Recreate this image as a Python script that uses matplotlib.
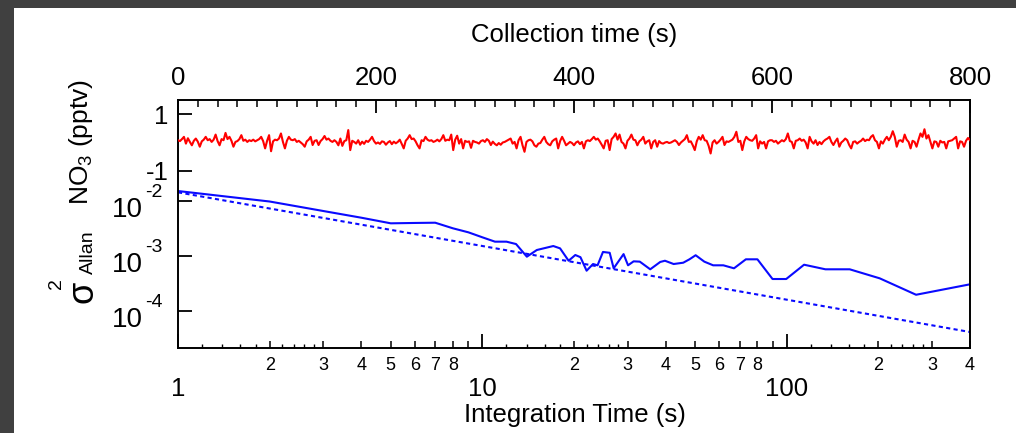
import numpy as np
import matplotlib.pyplot as plt
from matplotlib.ticker import NullLocator
from matplotlib.patches import Rectangle

plt.rcParams['font.family'] = ['Liberation Sans', 'DejaVu Sans']
plt.rcParams['mathtext.fontset'] = 'custom'
plt.rcParams['mathtext.rm'] = 'Liberation Sans'
plt.rcParams['mathtext.it'] = 'Liberation Sans:italic'
plt.rcParams['mathtext.default'] = 'regular'

# NO3 signal (pptv), one reading every 2 s of collection
collection_time = np.arange(0, 801, 2)
no3 = [
    0.08, 0.05, 0.12, 0.20, -0.04, 0.15, 0.02, -0.10, 0.06, 0.14, 0.03, -0.15, 0.04, 0.10, 0.20, 0.08, 0.12, 0.02, 0.10, 0.28,
    0.05, -0.10, 0.12, 0.08, 0.34, 0.12, 0.20, 0.06, -0.15, 0.02, 0.05, 0.12, 0.26, 0.06, 0.10, 0.02, 0.08, 0.05, 0.10, 0.04,
    0.08, 0.12, 0.20, 0.05, -0.21, 0.06, 0.26, -0.31, 0.04, 0.10, 0.08, 0.14, 0.32, 0.02, -0.21, 0.06, 0.20, 0.10, 0.08, 0.12,
    0.02, 0.06, 0.00, -0.06, -0.15, 0.04, 0.10, 0.20, -0.09, 0.06, 0.08, -0.09, 0.05, 0.12, 0.23, 0.10, 0.14, 0.06, 0.02, 0.08,
    0.02, -0.10, 0.14, -0.12, 0.05, 0.08, 0.44, -0.27, 0.06, 0.02, -0.04, 0.08, -0.08, 0.03, -0.05, 0.06, 0.02, 0.10, 0.20, 0.05,
    -0.04, 0.00, -0.05, 0.04, 0.02, -0.08, 0.00, 0.05, -0.06, 0.03, -0.03, 0.02, 0.10, -0.05, -0.21, 0.06, 0.14, 0.26, 0.12, 0.14,
    0.04, -0.10, -0.21, 0.08, 0.05, 0.20, 0.10, 0.06, 0.08, 0.02, 0.05, 0.10, 0.04, 0.12, 0.26, 0.06, 0.10, 0.08, 0.28, -0.27,
    0.10, 0.24, -0.04, 0.12, -0.21, 0.06, 0.02, 0.04, -0.19, 0.06, 0.02, 0.00, -0.04, 0.05, 0.08, 0.02, 0.12, 0.06, -0.09, 0.03,
    -0.05, -0.10, -0.02, -0.08, 0.00, 0.02, 0.06, 0.10, 0.14, -0.04, 0.02, -0.21, 0.08, 0.20, -0.10, -0.33, 0.02, 0.08, 0.10, 0.04,
    -0.10, -0.15, -0.04, -0.02, 0.10, 0.20, 0.02, -0.06, -0.10, 0.04, 0.10, 0.14, -0.21, 0.05, 0.20, 0.06, -0.10, -0.04, 0.02, -0.02,
    -0.10, 0.00, 0.04, -0.06, 0.02, -0.21, 0.04, 0.08, 0.05, 0.12, 0.20, 0.10, 0.14, 0.04, -0.08, -0.21, 0.06, 0.08, -0.27, 0.12,
    0.20, 0.32, 0.10, 0.28, 0.02, -0.04, -0.21, 0.06, 0.14, 0.28, 0.10, 0.08, -0.10, 0.04, 0.10, 0.20, -0.04, 0.04, 0.08, -0.21,
    0.02, 0.08, -0.15, 0.05, -0.02, -0.04, 0.00, 0.02, -0.02, 0.00, 0.04, 0.08, 0.02, -0.09, 0.00, 0.06, 0.12, 0.26, 0.02, 0.04,
    -0.10, -0.27, 0.04, 0.20, 0.10, 0.26, 0.08, 0.06, -0.12, -0.39, 0.00, 0.08, -0.04, 0.02, 0.10, 0.20, -0.09, 0.04, 0.02, 0.06,
    0.10, 0.20, 0.38, 0.02, 0.06, -0.27, 0.04, 0.20, 0.12, 0.08, 0.06, 0.14, 0.26, -0.21, 0.04, -0.04, 0.02, -0.21, 0.04, 0.08,
    0.08, 0.02, 0.06, -0.04, 0.02, 0.08, 0.04, 0.12, 0.32, 0.05, 0.02, -0.21, 0.06, 0.08, 0.14, 0.06, 0.10, 0.00, -0.21, 0.20,
    0.04, -0.04, 0.08, -0.09, 0.02, -0.06, 0.04, 0.10, 0.14, 0.20, 0.02, -0.09, 0.04, 0.14, -0.15, 0.00, 0.06, 0.14, 0.08, -0.09,
    -0.21, 0.02, 0.04, -0.04, 0.02, 0.06, 0.14, 0.05, 0.10, 0.08, 0.20, 0.26, 0.08, 0.02, -0.21, 0.04, -0.04, 0.10, 0.20, 0.08,
    0.20, 0.40, 0.20, -0.15, 0.06, 0.08, 0.02, 0.28, 0.10, 0.02, -0.21, 0.06, 0.02, -0.15, 0.10, 0.32, 0.20, 0.47, 0.14, 0.26,
    0.02, -0.21, 0.04, 0.02, -0.15, 0.06, 0.00, 0.02, -0.21, 0.04, 0.06, 0.08, 0.14, 0.20, -0.21, 0.04, 0.02, -0.15, 0.06, 0.16, 0.08,
]

# Allan variance vs integration time
tau = [1.0, 2.0, 3.0, 4.0, 5.0, 6.0, 7.0, 8.0, 9.0, 10.0, 11.0, 12.0, 12.9, 14.0, 15.1,
       17.1, 18.0, 19.2, 20.2, 21.0, 22.0, 23.1, 23.9, 24.9, 26.2, 27.0, 29.1, 30.1,
       31.4, 32.9, 35.6, 38.4, 39.8, 42.5, 45.7, 47.9, 50.2, 53.6, 57.3, 61.9, 67.1,
       73.4, 80.1, 89.8, 99.6, 114, 134, 161, 202, 266, 400]
allan_var = [0.0150, 0.00967, 0.0065, 0.00491, 0.00388, 0.00394, 0.00398, 0.00315,
             0.00266, 0.00216, 0.00180, 0.00180, 0.00163, 0.00096, 0.00127, 0.00150,
             0.00136, 0.00081, 0.00103, 0.00094, 0.000534, 0.000706, 0.000669, 0.00117,
             0.00113, 0.00059, 0.00107, 0.000669, 0.00079, 0.00078, 0.000566, 0.00077,
             0.00081, 0.000706, 0.000746, 0.00086, 0.00102, 0.00078, 0.000669, 0.000669,
             0.00059, 0.00086, 0.00086, 0.000377, 0.000377, 0.000686, 0.000566, 0.000566,
             0.000388, 0.000195, 0.000302]

# white-noise reference line (slope ~ -1)
white_tau = [1, 400]
white_var = [0.0142, 4.1e-5]

# log y-axis labels, Igor style: big "10" with exponent
var_ticks = [1e-2, 1e-3, 1e-4]
var_exps = ['-2', '-3', '-4']

W, H = 1016, 433


def fx(px):
    return px / W


def fy(py):
    return 1 - py / H


fig = plt.figure(figsize=(W / 100, H / 100), dpi=100)
fig.add_artist(Rectangle((0, fy(8)), 1, 8 / H, transform=fig.transFigure, color='#404040', lw=0))
fig.add_artist(Rectangle((0, 0), fx(14), 1, transform=fig.transFigure, color='#404040', lw=0))

pos = [fx(178), fy(348), 792 / W, 248 / H]

# lower panel: Allan variance, log-log
ax = fig.add_axes(pos)
ax.plot(tau, allan_var, color='#0a0aff', lw=1.5)
ax.plot(white_tau, white_var, color='#0a0aff', lw=1.5, ls=(0, (2, 1.6)))
ax.set_xscale('log')
ax.set_yscale('log')
ax.set_xlim(1, 400)
ax.set_ylim(10 ** -4.678, 10 ** -0.169)
for s in ax.spines.values():
    s.set_linewidth(1.4)

ax.set_yticks(var_ticks, [''] * len(var_ticks))
ax.yaxis.set_minor_locator(NullLocator())
ax.tick_params(axis='y', which='major', direction='in', length=10, width=1.3, right=False)
for v, e in zip(var_ticks, var_exps):
    ax.annotate('10', xy=(0, v), xycoords=('axes fraction', 'data'),
                xytext=(-35, -9), textcoords='offset pixels',
                ha='right', va='center', fontsize=20)
    ax.annotate(e, xy=(0, v), xycoords=('axes fraction', 'data'),
                xytext=(-33, 8), textcoords='offset pixels',
                ha='left', va='center', fontsize=14)

ax.set_xticks([1, 10, 100], ['1', '10', '100'])
minor_pos = [2, 3, 4, 5, 6, 7, 8, 9, 20, 30, 40, 50, 60, 70, 80, 90, 200, 300, 400]
minor_lab = ['2', '3', '4', '5', '6', '7', '8', '', '2', '3', '4', '5', '6', '7', '8', '',
             '2', '3', '4']
ax.set_xticks(minor_pos, minor_lab, minor=True)
ax.tick_params(axis='x', which='major', direction='in', length=10, width=1.3,
               pad=21, labelsize=18.5, top=False)
ax.tick_params(axis='x', which='minor', direction='in', length=5, width=1.1,
               pad=6.5, labelsize=13, top=False)

# small unlabelled ticks between 1-3 of each decade
sub_pos = [1.2, 1.4, 1.6, 1.8, 2.2, 2.4, 2.6, 2.8, 12, 14, 16, 18, 22, 24, 26, 28,
           120, 140, 160, 180, 220, 240, 260, 280]
axs = fig.add_axes(pos, facecolor='none')
axs.set_xscale('log')
axs.set_xlim(1, 400)
axs.set_xticks(sub_pos, [''] * len(sub_pos))
axs.xaxis.set_minor_locator(NullLocator())
axs.set_yticks([])
axs.tick_params(axis='x', direction='in', length=3, width=1.0)
for s in axs.spines.values():
    s.set_visible(False)

# upper panel: NO3 trace vs collection time
ax2 = fig.add_axes(pos, facecolor='none')
ax2.plot(collection_time, no3, color='#ff0000', lw=1.5)
ax2.set_xlim(0, 800)
ax2.set_ylim(-7.29, 1.507)
for s in ax2.spines.values():
    s.set_visible(False)
ax2.xaxis.tick_top()
ax2.set_xticks([0, 200, 400, 600, 800])
ax2.set_xticks(np.arange(0, 801, 20), minor=True)
ax2.tick_params(axis='x', which='major', direction='in', length=9.5, width=1.3,
                pad=7, labelsize=18.5, top=True, bottom=False)
ax2.tick_params(axis='x', which='minor', direction='in', length=5, width=1.1,
                top=True, bottom=False)
ax2.set_yticks([1, -1], ['1', '-1'])
ax2.tick_params(axis='y', direction='in', length=10, width=1.3, pad=7, labelsize=18.5)

fig.text(fx(574), fy(35), 'Collection time (s)', fontsize=18.5, ha='center', va='center')
fig.text(fx(575), fy(415), 'Integration Time (s)', fontsize=18.5, ha='center', va='center')
fig.text(fx(81), fy(142), r'NO$_3$ (pptv)', fontsize=19, rotation=90, ha='center', va='center')
fig.text(fx(83), fy(292), '\u03c3', fontsize=26, rotation=90, ha='center', va='center')
fig.text(fx(56), fy(284), '2', fontsize=14, rotation=90, ha='center', va='center')
fig.text(fx(88), fy(252), 'Allan', fontsize=14, rotation=90, ha='center', va='center')

fig.savefig('out.png', dpi=100)
